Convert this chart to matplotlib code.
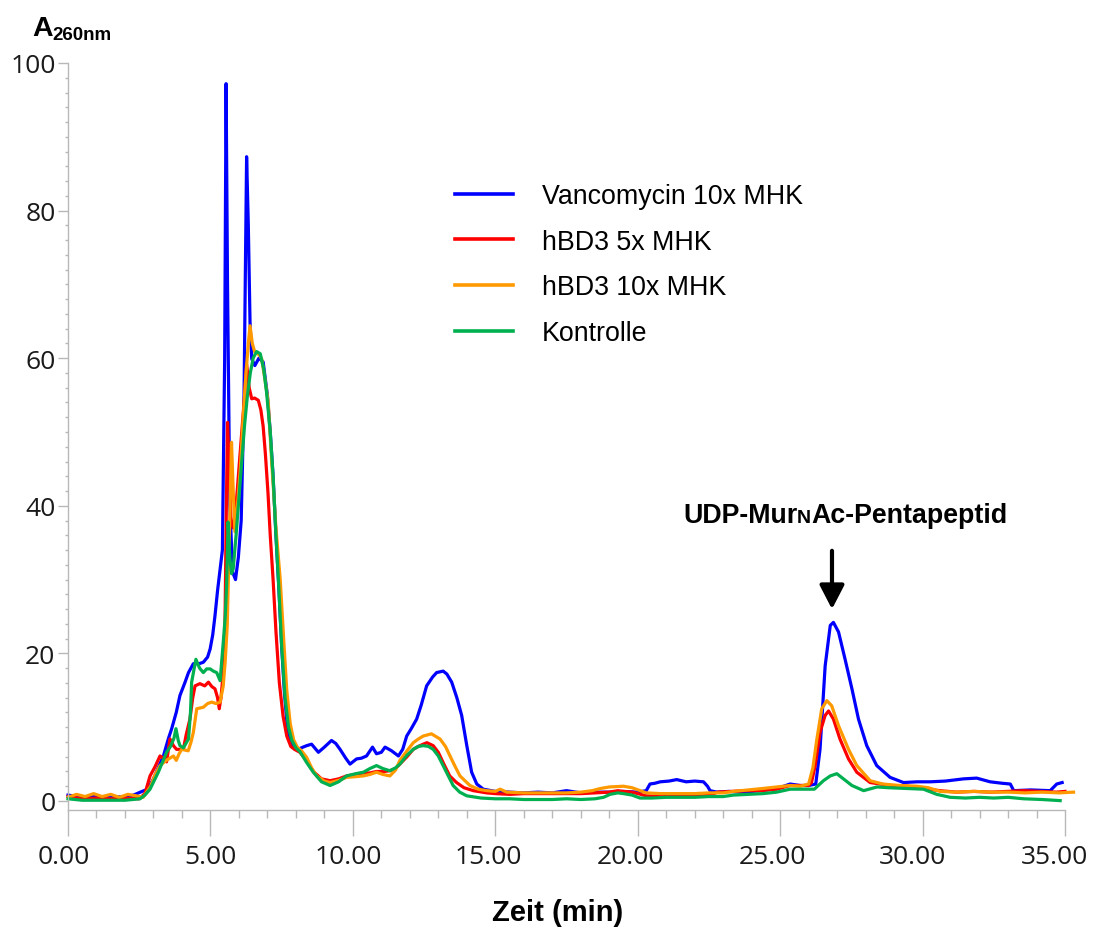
import matplotlib
matplotlib.use("Agg")
import matplotlib.pyplot as plt
import matplotlib.transforms as mtransforms
from matplotlib.ticker import MultipleLocator, FormatStrFormatter

# ---------------- data ----------------
labels = ["Vancomycin 10x MHK", "hBD3 5x MHK", "hBD3 10x MHK", "Kontrolle"]
colors = ["#0000FF", "#FF0000", "#FF9900", "#00B050"]

vanco_t = [0.0, 0.5, 1.0, 1.5, 2.0, 2.3, 2.6, 2.8, 3.0, 3.2, 3.35, 3.52, 3.64, 3.8, 3.93, 4.1, 4.23, 4.4,
           4.6, 4.75, 4.9, 4.99, 5.08, 5.16, 5.25, 5.34, 5.42, 5.5, 5.55, 5.6, 5.68, 5.78, 5.88, 5.98,
           6.08, 6.18, 6.27, 6.33, 6.39, 6.45, 6.56, 6.7, 6.85, 7.0, 7.1, 7.2, 7.3, 7.4, 7.5, 7.6, 7.7,
           7.8, 7.95, 8.08, 8.25, 8.38, 8.55, 8.79, 9.0, 9.25, 9.4, 9.55, 9.75, 9.9, 10.13, 10.3, 10.48,
           10.69, 10.83, 11.0, 11.13, 11.36, 11.6, 11.75, 11.89, 12.05, 12.24, 12.4, 12.59, 12.8, 12.94,
           13.17, 13.3, 13.47, 13.65, 13.82, 14.0, 14.17, 14.35, 14.58, 15.0, 15.5, 16.0, 16.5, 17.0,
           17.5, 18.0, 18.5, 19.0, 19.5, 20.0, 20.3, 20.43, 20.6, 20.79, 21.1, 21.37, 21.7, 22.0, 22.31,
           22.45, 22.54, 22.78, 23.2, 23.6, 24.0, 24.5, 24.9, 25.35, 25.7, 26.0, 26.25, 26.4, 26.58,
           26.76, 26.87, 27.05, 27.28, 27.52, 27.75, 28.04, 28.39, 28.86, 29.33, 29.8, 30.27, 30.8,
           31.44, 31.9, 32.37, 32.8, 33.08, 33.2, 33.8, 34.48, 34.71, 34.9]
vanco_a = [0.8, 0.5, 0.6, 0.5, 0.6, 0.8, 1.3, 1.6, 3.0, 4.8, 6.1, 8.4, 9.8, 12.0, 14.3, 16.0, 17.4, 18.6,
           18.6, 18.8, 19.5, 20.6, 22.5, 25.1, 28.5, 31.4, 34.0, 60.0, 97.2, 70.0, 40.0, 31.0, 30.0, 33.0,
           38.0, 55.0, 87.3, 78.0, 64.9, 59.9, 59.0, 60.0, 59.5, 55.0, 50.0, 44.0, 36.0, 29.0, 21.0, 14.5, 10.0,
           8.0, 7.2, 7.0, 7.3, 7.5, 7.7, 6.6, 7.3, 8.2, 7.8, 7.0, 5.8, 5.0, 5.7, 5.8, 6.1,
           7.3, 6.4, 6.6, 7.3, 6.8, 6.1, 7.0, 8.8, 9.8, 11.1, 13.0, 15.6, 16.8, 17.4,
           17.6, 17.2, 16.1, 14.0, 11.6, 7.5, 3.9, 2.3, 1.6, 1.3, 1.2, 1.1, 1.2, 1.1,
           1.4, 1.1, 1.2, 1.2, 1.3, 1.2, 1.4, 2.3, 2.4, 2.6, 2.7, 2.9, 2.6, 2.7, 2.6,
           2.0, 1.4, 1.2, 1.3, 1.2, 1.3, 1.5, 1.7, 2.3, 2.1, 2.1, 2.3, 7.0, 18.3,
           23.8, 24.2, 22.9, 19.2, 15.2, 11.1, 7.5, 4.8, 3.2, 2.5, 2.6, 2.6, 2.7,
           3.0, 3.1, 2.6, 2.4, 2.3, 1.4, 1.5, 1.4, 2.3, 2.5]

hbd5_t = [0.0, 0.5, 1.0, 1.5, 2.0, 2.5, 2.7, 2.88, 3.05, 3.23, 3.35, 3.46, 3.58, 3.7, 3.81, 4.05, 4.15,
          4.28, 4.38, 4.46, 4.63, 4.8, 4.93, 5.05, 5.16, 5.25, 5.31, 5.37, 5.43, 5.51, 5.56, 5.6, 5.66,
          5.72, 5.8, 5.9, 6.0, 6.1, 6.2, 6.27, 6.36, 6.45, 6.55, 6.68, 6.77, 6.85, 6.93, 7.02, 7.1, 7.2,
          7.3, 7.42, 7.55, 7.68, 7.82, 7.95, 8.14, 8.38, 8.61, 8.9, 9.2, 9.5, 9.78, 10.1, 10.37, 10.6,
          10.83, 11.1, 11.3, 11.5, 11.65, 11.9, 12.12, 12.3, 12.47, 12.6, 12.82, 13.0, 13.17, 13.4,
          13.64, 13.9, 14.23, 14.7, 15.0, 15.5, 16.0, 16.5, 17.0, 17.5, 18.0, 18.5, 19.0, 19.3, 19.5,
          19.8, 20.1, 20.3, 20.8, 21.3, 21.8, 22.3, 22.6, 22.8, 23.3, 23.8, 24.3, 24.88, 25.35, 25.7,
          26.0, 26.1, 26.23, 26.4, 26.58, 26.7, 26.87, 27.1, 27.4, 27.69, 28.16, 28.86, 29.5, 30.03,
          30.6, 31.2, 31.8, 32.4, 33.0, 33.55, 34.1, 34.71, 35.0]
hbd5_a = [0.6, 0.3, 0.4, 0.3, 0.4, 0.3, 1.0, 3.4, 4.6, 6.1, 5.8, 5.3, 8.4, 7.5, 7.0, 7.0, 9.0,
          11.1, 14.0, 15.6, 15.9, 15.6, 16.1, 15.5, 15.2, 14.0, 12.5, 14.0, 16.5, 23.8, 40.0, 51.3, 45.0,
          38.0, 37.0, 40.0, 45.0, 50.0, 55.0, 59.2, 56.0, 54.5, 54.6, 54.3, 53.0, 50.8, 47.0, 41.8, 36.0, 30.0,
          23.0, 16.0, 11.5, 8.8, 7.4, 7.0, 6.6, 5.5, 4.0, 3.0, 2.75, 3.0, 3.4, 3.6, 3.8, 3.8,
          4.0, 4.0, 4.1, 4.4, 5.0, 6.0, 7.0, 7.4, 7.7, 7.9, 7.5, 6.6, 5.2, 3.4,
          2.5, 1.8, 1.4, 1.1, 1.0, 0.9, 1.0, 1.0, 1.0, 1.0, 1.0, 1.1, 1.2, 1.4, 1.3,
          1.2, 0.9, 0.7, 0.6, 0.7, 0.7, 0.7, 0.9, 1.2, 1.3, 1.4, 1.4, 1.6, 2.1, 2.1,
          2.1, 2.5, 4.8, 9.3, 11.6, 12.2, 11.1, 8.4, 5.7, 3.9, 2.5, 2.1, 2.0, 1.7,
          1.4, 1.2, 1.3, 1.2, 1.3, 1.4, 1.3, 1.2, 1.3]

hbd10_t = [0.0, 0.3, 0.6, 0.9, 1.2, 1.5, 1.8, 2.1, 2.4, 2.64, 2.9, 3.05, 3.23, 3.45, 3.7, 3.8, 3.9, 3.99,
           4.22, 4.32, 4.4, 4.52, 4.75, 4.9, 5.04, 5.2, 5.34, 5.45, 5.52, 5.59, 5.66, 5.74, 5.8, 5.86,
           5.95, 6.05, 6.15, 6.25, 6.33, 6.39, 6.47, 6.56, 6.7, 6.8, 6.92, 7.03, 7.15, 7.3, 7.45, 7.57,
           7.68, 7.8, 7.92, 8.05, 8.2, 8.38, 8.55, 8.73, 9.0, 9.2, 9.5, 9.78, 10.1, 10.37, 10.6, 10.83,
           11.05, 11.3, 11.5, 11.65, 11.9, 12.12, 12.3, 12.47, 12.76, 13.06, 13.25, 13.41, 13.6, 13.76,
           14.11, 14.4, 14.7, 15.0, 15.17, 15.4, 16.0, 16.5, 17.0, 17.5, 18.0, 18.4, 18.7, 19.0, 19.5,
           19.8, 20.08, 20.3, 20.8, 21.5, 22.0, 22.5, 23.0, 23.36, 23.9, 24.4, 24.88, 25.35, 25.7, 26.0,
           26.15, 26.29, 26.46, 26.64, 26.81, 27.05, 27.4, 27.69, 28.16, 28.6, 29.2, 29.8, 30.2, 30.62,
           31.2, 31.8, 32.4, 33.0, 33.6, 34.2, 34.8, 35.3]
hbd10_a = [0.5, 0.9, 0.6, 1.0, 0.6, 0.9, 0.5, 0.9, 0.7, 0.5, 2.0, 3.5, 4.8, 5.5, 6.1, 5.5, 6.4, 7.0,
           6.8, 8.0, 9.3, 12.5, 12.7, 13.2, 13.4, 13.2, 13.4, 15.6, 19.0, 23.8, 35.0, 48.6, 42.0, 36.5,
           40.0, 45.0, 52.0, 58.0, 62.0, 64.4, 62.0, 60.8, 60.5, 59.9, 57.0, 54.0, 46.0, 37.0, 30.0, 22.0,
           15.0, 10.5, 8.3, 7.3, 6.8, 5.9, 4.5, 3.4, 2.7, 2.5, 2.8, 3.2, 3.3, 3.4, 3.6, 3.9,
           3.6, 3.4, 4.2, 5.5, 6.8, 7.9, 8.4, 8.8, 9.1, 8.4, 7.4, 6.1, 4.6, 3.4,
           2.1, 1.6, 1.4, 1.3, 1.6, 1.2, 1.1, 1.1, 1.1, 1.1, 1.2, 1.4, 1.7, 1.9, 2.0,
           1.8, 1.4, 1.1, 1.0, 1.0, 1.0, 1.1, 1.1, 1.3, 1.5, 1.7, 1.9, 2.1, 2.0, 2.3,
           4.5, 8.4, 12.5, 13.6, 12.9, 10.2, 7.0, 4.8, 2.75, 2.3, 2.1, 2.0, 1.8, 1.3,
           1.2, 1.3, 1.2, 1.2, 1.1, 1.2, 1.1, 1.2]

ctrl_t = [0.0, 0.5, 1.0, 1.5, 2.0, 2.53, 2.7, 2.88, 3.17, 3.46, 3.6, 3.72, 3.79, 3.87, 3.93, 4.05, 4.23,
          4.3, 4.34, 4.49, 4.62, 4.75, 4.87, 4.99, 5.1, 5.22, 5.34, 5.45, 5.52, 5.57, 5.62, 5.68, 5.74,
          5.8, 5.9, 6.0, 6.1, 6.2, 6.3, 6.4, 6.5, 6.62, 6.75, 6.87, 6.97, 7.1, 7.2, 7.3, 7.4, 7.5, 7.62,
          7.74, 7.86, 8.0, 8.14, 8.38, 8.61, 8.9, 9.2, 9.5, 9.78, 10.1, 10.37, 10.6, 10.83, 11.05, 11.3,
          11.5, 11.65, 11.9, 12.12, 12.3, 12.47, 12.65, 12.82, 13.0, 13.17, 13.35, 13.52, 13.75, 14.0,
          14.5, 15.0, 15.5, 16.0, 16.5, 17.0, 17.5, 18.0, 18.5, 18.8, 19.03, 19.3, 19.5, 19.8, 20.08,
          20.5, 21.0, 21.5, 22.0, 22.5, 23.0, 23.36, 23.9, 24.4, 24.88, 25.35, 25.8, 26.2, 26.52, 26.76,
          26.99, 27.22, 27.52, 27.93, 28.4, 28.8, 29.4, 30.03, 30.5, 30.97, 31.5, 32.0, 32.5, 33.0,
          33.55, 34.2, 34.83]
ctrl_a = [0.3, 0.1, 0.1, 0.1, 0.1, 0.3, 0.8, 1.6, 3.9, 6.6, 7.4, 8.5, 9.8, 8.2, 7.5, 7.2, 8.4,
          12.0, 16.1, 19.2, 18.0, 17.4, 17.9, 17.9, 17.6, 17.4, 16.3, 21.5, 25.0, 29.6, 37.8, 33.0, 30.8,
          31.5, 36.0, 41.0, 46.0, 51.0, 55.0, 58.0, 60.0, 60.9, 60.6, 58.5, 55.4, 50.0, 44.0, 36.0, 29.0, 21.0, 14.0,
          10.0, 8.2, 7.2, 6.7, 5.2, 3.9, 2.6, 2.1, 2.6, 3.4, 3.7, 3.9, 4.4, 4.8, 4.4, 4.1,
          4.5, 5.0, 6.2, 7.0, 7.4, 7.5, 7.4, 7.0, 6.1, 4.8, 3.4, 2.1, 1.2, 0.7,
          0.4, 0.3, 0.3, 0.2, 0.2, 0.2, 0.3, 0.2, 0.3, 0.5, 0.9, 1.1, 1.0, 0.8, 0.4,
          0.4, 0.5, 0.5, 0.5, 0.6, 0.6, 0.8, 0.9, 1.0, 1.2, 1.6, 1.6, 1.6, 2.75, 3.4,
          3.7, 3.0, 2.1, 1.4, 1.9, 1.8, 1.7, 1.6, 0.9, 0.5, 0.4, 0.5, 0.4, 0.5,
          0.3, 0.2, 0.05]

series_t = [vanco_t, hbd5_t, hbd10_t, ctrl_t]
series_a = [vanco_a, hbd5_a, hbd10_a, ctrl_a]

x_ticks = [0, 5, 10, 15, 20, 25, 30, 35]
y_ticks = [0, 20, 40, 60, 80, 100]

# ---------------- figure ----------------
W, H = 1094, 929
fig = plt.figure(figsize=(W / 100, H / 100), dpi=100)


def fx(x):
    return x / W


def fy(y):
    return 1 - y / H


ax = fig.add_axes([fx(68), fy(811), (1065 - 68) / W, (811 - 64) / H])
ax.set_xlim(0, 35)
ax.set_ylim(-1.22, 100)

for t, a, c, lab in zip(series_t, series_a, colors, labels):
    ax.plot(t, a, color=c, lw=2.3, label=lab, clip_on=False, solid_joinstyle="round")

grey = "#b8b8b8"
for s in ["top", "right"]:
    ax.spines[s].set_visible(False)
for s in ["left", "bottom"]:
    ax.spines[s].set_color(grey)
    ax.spines[s].set_linewidth(1.0)

ax.set_xticks(x_ticks)
ax.set_yticks(y_ticks)
ax.xaxis.set_major_formatter(FormatStrFormatter("%.2f"))
ax.xaxis.set_minor_locator(MultipleLocator(1))
ax.yaxis.set_minor_locator(MultipleLocator(2))
ax.tick_params(axis="x", which="major", length=18.5, width=1, color=grey, pad=6,
               labelsize=19, labelcolor="#1a1a1a")
ax.tick_params(axis="x", which="minor", length=6, width=1, color=grey)
ax.tick_params(axis="y", which="major", length=7, width=1, color=grey, pad=2,
               labelsize=19, labelcolor="#1a1a1a")
ax.tick_params(axis="y", which="minor", length=2.2, width=1, color=grey)
for lab in ax.get_xticklabels() + ax.get_yticklabels():
    lab.set_fontfamily("Open Sans")

# small horizontal shifts of the x tick labels (pixels), as in the original
x_label_shift = [-4, 0, -5, -7, -7, -8, -10, -11]
for lab, dx in zip(ax.get_xticklabels(), x_label_shift):
    lab.set_transform(lab.get_transform() + mtransforms.ScaledTranslation(dx / 100, 0, fig.dpi_scale_trans))

# legend
leg = ax.legend(loc="upper left", bbox_to_anchor=(fx(455), fy(184)), bbox_transform=fig.transFigure,
                frameon=False, prop={"family": "Liberation Sans", "size": 19.3},
                handlelength=2.15, handletextpad=1.1, labelspacing=0.735, borderpad=0, borderaxespad=0)
for h in leg.get_lines():
    h.set_linewidth(2.6)

# axis label and title
fig.text(fx(558), fy(921), "Zeit (min)", ha="center", va="baseline", fontsize=21,
         fontweight="bold", family="Liberation Sans")
fig.text(fx(32), fy(35.5), "A", ha="left", va="baseline", fontsize=20.5,
         fontweight="bold", family="Liberation Sans")
fig.text(fx(52), fy(40), "260nm", ha="left", va="baseline", fontsize=13.5,
         fontweight="bold", family="Liberation Sans")

# annotation "UDP-MurNAc-Pentapeptid" with small-cap N
fig.canvas.draw()
renderer = fig.canvas.get_renderer()
base_y = fy(523)
x0 = 683
pieces = [("UDP-Mur", 19.3), ("N", 14.0), ("Ac-Pentapeptid", 19.3)]
for txt, fs in pieces:
    t = fig.text(fx(x0), base_y, txt, ha="left", va="baseline", fontsize=fs,
                 fontweight="bold", family="Liberation Sans")
    bb = t.get_window_extent(renderer)
    x0 = bb.x1

ax.annotate("", xy=(26.82, 26.0), xytext=(26.82, 33.9),
            arrowprops=dict(arrowstyle="-|>,head_length=1.45,head_width=0.75", color="black",
                            lw=3, shrinkA=0, shrinkB=0, mutation_scale=10))

fig.savefig("out.png", dpi=100)
